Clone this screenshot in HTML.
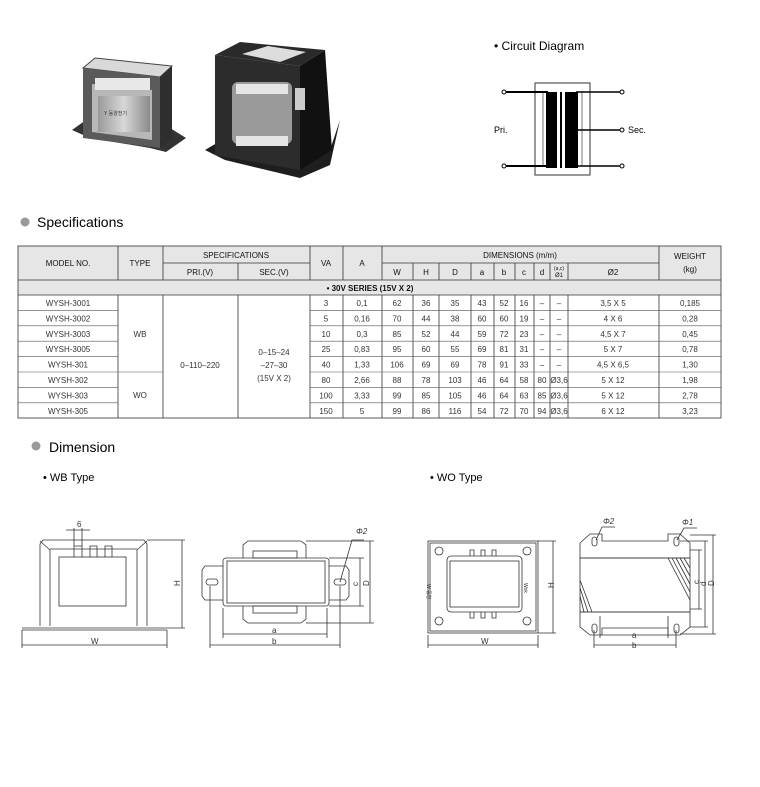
<!DOCTYPE html>
<html><head><meta charset="utf-8"><style>
html,body{margin:0;padding:0;background:#fff;}
body{width:760px;height:787px;position:relative;overflow:hidden;font-family:"Liberation Sans",Arial,sans-serif;}
svg{position:absolute;left:0;top:0;}
</style></head><body>
<svg width="760" height="787" viewBox="0 0 760 787" font-family="Liberation Sans, Arial, sans-serif">
<defs>
<linearGradient id="g1" x1="0" x2="1"><stop offset="0" stop-color="#9a9a9a"/><stop offset="0.5" stop-color="#d8d8d8"/><stop offset="1" stop-color="#8a8a8a"/></linearGradient>
</defs>
<!-- Photo left transformer -->
<polygon points="72,130 86,120 170,128 186,138 166,152 150,148 90,138" fill="#333"/>
<polygon points="83,68 95,58 172,66 160,77" fill="#d9d9d9" stroke="#444"/>
<polygon points="83,68 160,77 160,148 83,138" fill="#5a5a5a"/>
<polygon points="160,77 172,66 172,138 160,148" fill="#2e2e2e"/>
<polygon points="92,84 152,90 152,140 92,132" fill="#b8b8b8"/>
<rect x="95" y="78" width="55" height="12" fill="#e8e8e8"/>
<rect x="98" y="96" width="52" height="36" fill="url(#g1)"/>
<text x="104" y="115" font-size="5" fill="#333">Y 동양전기</text>
<!-- Photo right transformer -->
<polygon points="205,150 222,140 330,150 340,120 330,165 300,178 225,160" fill="#1e1e1e"/>
<polygon points="215,55 240,42 325,50 300,66" fill="#2a2a2a"/>
<polygon points="242,54 268,46 306,52 280,62" fill="#ddd"/>
<polygon points="215,55 300,66 300,170 215,155" fill="#2c2c2c"/>
<polygon points="300,66 325,50 332,150 300,170" fill="#111"/>
<rect x="232" y="82" width="60" height="62" fill="#9a9a9a" rx="6"/>
<rect x="236" y="84" width="52" height="10" fill="#e5e5e5"/>
<rect x="236" y="136" width="52" height="10" fill="#e5e5e5"/>
<rect x="295" y="88" width="10" height="22" fill="#ccc"/>
<!-- Circuit diagram -->
<text x="494" y="50" font-size="12" fill="#000">• Circuit  Diagram</text>
<rect x="535" y="83" width="55" height="92" fill="none" stroke="#333" stroke-width="1"/>
<line x1="543" y1="92" x2="543" y2="166" stroke="#555" stroke-width="0.8"/>
<line x1="582" y1="92" x2="582" y2="166" stroke="#555" stroke-width="0.8"/>
<rect x="546" y="92" width="11" height="76" fill="#000"/>
<rect x="560" y="92" width="2" height="76" fill="#000"/>
<rect x="565" y="92" width="3" height="76" fill="#000"/>
<rect x="568" y="92" width="10" height="76" fill="#000"/>
<line x1="506" y1="92" x2="548" y2="92" stroke="#000" stroke-width="2"/>
<line x1="506" y1="166" x2="548" y2="166" stroke="#000" stroke-width="2"/>
<line x1="576" y1="92" x2="620" y2="92" stroke="#000" stroke-width="1.5"/>
<line x1="576" y1="130" x2="620" y2="130" stroke="#000" stroke-width="1.5"/>
<line x1="576" y1="166" x2="620" y2="166" stroke="#000" stroke-width="1.5"/>
<g fill="#fff" stroke="#000" stroke-width="1"><circle cx="504" cy="92" r="2"/><circle cx="504" cy="166" r="2"/><circle cx="622" cy="92" r="2"/><circle cx="622" cy="130" r="2"/><circle cx="622" cy="166" r="2"/></g>
<text x="494" y="133" font-size="9">Pri.</text>
<text x="628" y="133" font-size="9">Sec.</text>
<!-- Specifications heading -->
<circle cx="25" cy="222" r="4.5" fill="#999"/>
<text x="37" y="227" font-size="14">Specifications</text>
<!-- Table -->
<rect x="18" y="246" width="703" height="34" fill="#e6e6e6"/>
<rect x="18" y="280" width="703" height="15" fill="#e6e6e6"/>
<g stroke="#333" stroke-width="0.8" fill="none">
<rect x="18" y="246" width="703" height="172"/>
<line x1="18" y1="280" x2="721" y2="280"/>
<line x1="18" y1="295" x2="721" y2="295"/>
<line x1="163" y1="263" x2="310" y2="263"/>
<line x1="382" y1="263" x2="659" y2="263"/>
<line x1="118" y1="246" x2="118" y2="280"/><line x1="163" y1="246" x2="163" y2="280"/>
<line x1="238" y1="263" x2="238" y2="280"/><line x1="310" y1="246" x2="310" y2="280"/>
<line x1="343" y1="246" x2="343" y2="280"/><line x1="382" y1="246" x2="382" y2="280"/>
<line x1="659" y1="246" x2="659" y2="280"/>
<line x1="413" y1="263" x2="413" y2="280"/><line x1="439" y1="263" x2="439" y2="280"/><line x1="471" y1="263" x2="471" y2="280"/><line x1="494" y1="263" x2="494" y2="280"/><line x1="515" y1="263" x2="515" y2="280"/><line x1="534" y1="263" x2="534" y2="280"/><line x1="550" y1="263" x2="550" y2="280"/><line x1="568" y1="263" x2="568" y2="280"/>
<line x1="118" y1="295" x2="118" y2="418"/><line x1="163" y1="295" x2="163" y2="418"/><line x1="238" y1="295" x2="238" y2="418"/><line x1="310" y1="295" x2="310" y2="418"/>
<line x1="343" y1="295" x2="343" y2="418"/><line x1="382" y1="295" x2="382" y2="418"/><line x1="413" y1="295" x2="413" y2="418"/><line x1="439" y1="295" x2="439" y2="418"/><line x1="471" y1="295" x2="471" y2="418"/><line x1="494" y1="295" x2="494" y2="418"/><line x1="515" y1="295" x2="515" y2="418"/><line x1="534" y1="295" x2="534" y2="418"/><line x1="550" y1="295" x2="550" y2="418"/><line x1="568" y1="295" x2="568" y2="418"/><line x1="659" y1="295" x2="659" y2="418"/>
</g>
<g stroke="#555" stroke-width="0.6">
<line x1="18" y1="310.4" x2="118" y2="310.4"/><line x1="310" y1="310.4" x2="721" y2="310.4"/>
<line x1="18" y1="325.8" x2="118" y2="325.8"/><line x1="310" y1="325.8" x2="721" y2="325.8"/>
<line x1="18" y1="341.2" x2="118" y2="341.2"/><line x1="310" y1="341.2" x2="721" y2="341.2"/>
<line x1="18" y1="356.6" x2="118" y2="356.6"/><line x1="310" y1="356.6" x2="721" y2="356.6"/>
<line x1="18" y1="372" x2="163" y2="372"/><line x1="310" y1="372" x2="721" y2="372"/>
<line x1="18" y1="387.4" x2="118" y2="387.4"/><line x1="310" y1="387.4" x2="721" y2="387.4"/>
<line x1="18" y1="402.8" x2="118" y2="402.8"/><line x1="310" y1="402.8" x2="721" y2="402.8"/>
</g>
<g font-size="8" text-anchor="middle" fill="#111">
<text x="68" y="266">MODEL NO.</text><text x="140" y="266">TYPE</text>
<text x="236" y="258">SPECIFICATIONS</text><text x="200" y="275">PRI.(V)</text><text x="274" y="275">SEC.(V)</text>
<text x="326" y="266">VA</text><text x="362" y="266">A</text>
<text x="520" y="258">DIMENSIONS (m/m)</text>
<text x="690" y="259">WEIGHT</text><text x="690" y="272">(kg)</text>
<text x="397" y="275">W</text><text x="426" y="275">H</text><text x="455" y="275">D</text><text x="482" y="275">a</text><text x="504" y="275">b</text><text x="524" y="275">c</text><text x="542" y="275">d</text>
<text x="559" y="270" font-size="5">(a,c)</text><text x="559" y="277" font-size="6">Ø1</text><text x="613" y="275">Ø2</text>
<text x="370" y="291" font-weight="bold">• 30V SERIES (15V X 2)</text>
</g>
<g font-size="8" text-anchor="middle" fill="#333">
<text x="140" y="337">WB</text><text x="140" y="398">WO</text>
<text x="200" y="368">0–110–220</text>
<text x="274" y="355">0–15–24</text><text x="274" y="368">–27–30</text><text x="274" y="381">(15V X 2)</text>
</g>
<g font-size="8" text-anchor="middle" fill="#333">
<g transform="translate(0,306)"><text x="68">WYSH-3001</text><text x="326">3</text><text x="362">0,1</text><text x="397">62</text><text x="426">36</text><text x="455">35</text><text x="482">43</text><text x="504">52</text><text x="524">16</text><text x="542">–</text><text x="559">–</text><text x="613">3,5 X 5</text><text x="690">0,185</text></g>
<g transform="translate(0,321.4)"><text x="68">WYSH-3002</text><text x="326">5</text><text x="362">0,16</text><text x="397">70</text><text x="426">44</text><text x="455">38</text><text x="482">60</text><text x="504">60</text><text x="524">19</text><text x="542">–</text><text x="559">–</text><text x="613">4 X 6</text><text x="690">0,28</text></g>
<g transform="translate(0,336.8)"><text x="68">WYSH-3003</text><text x="326">10</text><text x="362">0,3</text><text x="397">85</text><text x="426">52</text><text x="455">44</text><text x="482">59</text><text x="504">72</text><text x="524">23</text><text x="542">–</text><text x="559">–</text><text x="613">4,5 X 7</text><text x="690">0,45</text></g>
<g transform="translate(0,352.2)"><text x="68">WYSH-3005</text><text x="326">25</text><text x="362">0,83</text><text x="397">95</text><text x="426">60</text><text x="455">55</text><text x="482">69</text><text x="504">81</text><text x="524">31</text><text x="542">–</text><text x="559">–</text><text x="613">5 X 7</text><text x="690">0,78</text></g>
<g transform="translate(0,367.6)"><text x="68">WYSH-301</text><text x="326">40</text><text x="362">1,33</text><text x="397">106</text><text x="426">69</text><text x="455">69</text><text x="482">78</text><text x="504">91</text><text x="524">33</text><text x="542">–</text><text x="559">–</text><text x="613">4,5 X 6,5</text><text x="690">1,30</text></g>
<g transform="translate(0,383)"><text x="68">WYSH-302</text><text x="326">80</text><text x="362">2,66</text><text x="397">88</text><text x="426">78</text><text x="455">103</text><text x="482">46</text><text x="504">64</text><text x="524">58</text><text x="542">80</text><text x="559">Ø3,6</text><text x="613">5 X 12</text><text x="690">1,98</text></g>
<g transform="translate(0,398.4)"><text x="68">WYSH-303</text><text x="326">100</text><text x="362">3,33</text><text x="397">99</text><text x="426">85</text><text x="455">105</text><text x="482">46</text><text x="504">64</text><text x="524">63</text><text x="542">85</text><text x="559">Ø3,6</text><text x="613">5 X 12</text><text x="690">2,78</text></g>
<g transform="translate(0,413.8)"><text x="68">WYSH-305</text><text x="326">150</text><text x="362">5</text><text x="397">99</text><text x="426">86</text><text x="455">116</text><text x="482">54</text><text x="504">72</text><text x="524">70</text><text x="542">94</text><text x="559">Ø3,6</text><text x="613">6 X 12</text><text x="690">3,23</text></g>
</g>
<!-- Dimension heading -->
<circle cx="36" cy="446" r="4.5" fill="#999"/>
<text x="49" y="452" font-size="14">Dimension</text>
<text x="43" y="481" font-size="11">• WB Type</text>
<text x="430" y="481" font-size="11">• WO Type</text>
<!-- WB front -->
<g stroke="#333" stroke-width="0.8" fill="none">
<path d="M40,626 L40,544 L43,540 L144,540 L147,544 L147,626"/>
<path d="M50,626 L50,550 L40,541 M137,626 L137,550 L147,541 M50,549 L137,549"/>
<rect x="59" y="557" width="67" height="49"/>
<path d="M22,628 L167,628 M22,630 L167,630"/>
<path d="M74,557 L74,546 L82,546 L82,557 M90,557 L90,546 L97,546 L97,557 M105,557 L105,546 L112,546 L112,557"/>
<path d="M66,530 L90,530 M74,528 L74,546 M82,528 L82,546"/>
<path d="M147,540 L185,540 M167,628 L185,628 M182,540 L182,628"/>
<path d="M22,630 L22,648 M167,630 L167,648 M22,645 L167,645"/>
</g>
<text x="77" y="527" font-size="8" fill="#333">6</text>
<text x="176" y="586" font-size="8" fill="#333" transform="rotate(-90 178 584)">H</text>
<text x="91" y="644" font-size="8" fill="#333">W</text>
<!-- WB top -->
<g stroke="#333" stroke-width="0.8" fill="none">
<path d="M243,558 L243,545 L248,541 L301,541 L306,545 L306,558"/>
<path d="M243,606 L243,619 L248,623 L301,623 L306,619 L306,606"/>
<rect x="253" y="551" width="44" height="7"/><rect x="253" y="606" width="44" height="7"/>
<rect x="223" y="558" width="106" height="48" rx="3"/>
<rect x="227" y="561" width="98" height="42"/>
<path d="M223,566 L205,566 L202,570 L202,596 L205,600 L223,600"/>
<path d="M329,566 L346,566 L349,570 L349,596 L346,600 L329,600"/>
<rect x="206" y="579" width="12" height="6" rx="3"/><rect x="334" y="579" width="12" height="6" rx="3"/>
<path d="M329,558 L364,558 M329,606 L364,606 M360,558 L360,606"/>
<path d="M306,541 L374,541 M306,623 L374,623 M370,541 L370,623"/>
<path d="M223,608 L223,638 M327,608 L327,638 M223,634 L327,634"/>
<path d="M210,586 L210,648 M340,586 L340,648 M210,645 L340,645"/>
<path d="M340,582 L352,540 L364,540"/>
</g>
<text x="356" y="534" font-size="8" fill="#333" font-style="italic">Φ2</text>
<text x="272" y="633" font-size="8" fill="#333">a</text>
<text x="272" y="644" font-size="8" fill="#333">b</text>
<text x="352" y="584" font-size="8" fill="#333" transform="rotate(-90 356 582)">c</text>
<text x="363" y="584" font-size="8" fill="#333" transform="rotate(-90 367 582)">D</text>
<!-- WO front -->
<g stroke="#333" stroke-width="0.8" fill="none">
<rect x="428" y="541" width="110" height="92"/>
<rect x="430" y="543" width="106" height="88"/>
<rect x="447" y="556" width="75" height="56" rx="4"/>
<rect x="450" y="561" width="69" height="46"/>
<path d="M470,556 L470,550 L474,550 L474,556 M481,556 L481,550 L485,550 L485,556 M492,556 L492,550 L496,550 L496,556"/>
<path d="M470,612 L470,618 L474,618 L474,612 M481,612 L481,618 L485,618 L485,612 M492,612 L492,618 L496,618 L496,612"/>
<circle cx="439" cy="551" r="4"/><circle cx="527" cy="551" r="4"/><circle cx="439" cy="621" r="4"/><circle cx="527" cy="621" r="4"/>
<path d="M538,541 L556,541 M538,633 L556,633 M553,541 L553,633"/>
<path d="M428,635 L428,648 M538,635 L538,648 M428,645 L538,645"/>
</g>
<text x="436" y="595" font-size="5" fill="#333" transform="rotate(90 437 585)">W 동양</text>
<text x="525" y="588" font-size="5" fill="#333" transform="rotate(90 527 585)">Wok</text>
<text x="550" y="588" font-size="8" fill="#333" transform="rotate(-90 552 586)">H</text>
<text x="481" y="644" font-size="8" fill="#333">W</text>
<!-- WO side -->
<g stroke="#333" stroke-width="0.8" fill="none">
<path d="M580,543 L590,534 L602,534 L602,541 L668,541 L668,534 L680,534 L690,543 L690,558 L580,558 Z"/>
<path d="M580,558 L690,558 L690,612 L580,612 Z"/>
<path d="M580,612 L690,612 L690,627 L680,635 L668,635 L668,628 L602,628 L602,635 L590,635 L580,627 Z"/>
<rect x="592" y="537" width="5" height="9" rx="2.5"/><rect x="674" y="537" width="5" height="9" rx="2.5"/>
<rect x="592" y="624" width="5" height="9" rx="2.5"/><rect x="674" y="624" width="5" height="9" rx="2.5"/>
<path d="M668,558 L690,600 M672,558 L690,592 M676,558 L690,584 M680,558 L690,576 M684,558 L690,568"/>
<path d="M580,580 L592,612 M580,588 L588,612 M580,596 L584,612"/>
<path d="M690,550 L702,550 M690,609 L702,609 M699,550 L699,609"/>
<path d="M680,541 L708,541 M690,627 L708,627 M705,541 L705,627"/>
<path d="M690,535 L716,535 M680,634 L716,634 M713,535 L713,634"/>
<path d="M600,616 L600,638 M668,616 L668,638 M600,635 L668,635"/>
<path d="M594,630 L594,648 M676,630 L676,648 M594,645 L676,645"/>
<path d="M596,540 L602,527 L615,527 M677,540 L684,528 L697,528"/>
</g>
<text x="603" y="524" font-size="8" fill="#333" font-style="italic">Φ2</text>
<text x="682" y="525" font-size="8" fill="#333" font-style="italic">Φ1</text>
<text x="632" y="638" font-size="8" fill="#333">a</text>
<text x="632" y="648" font-size="8" fill="#333">b</text>
<text x="693" y="582" font-size="8" fill="#333" transform="rotate(-90 697 580)">c</text>
<text x="700" y="584" font-size="8" fill="#333" transform="rotate(-90 704 582)">d</text>
<text x="708" y="584" font-size="8" fill="#333" transform="rotate(-90 712 582)">D</text>
</svg>
</body></html>
